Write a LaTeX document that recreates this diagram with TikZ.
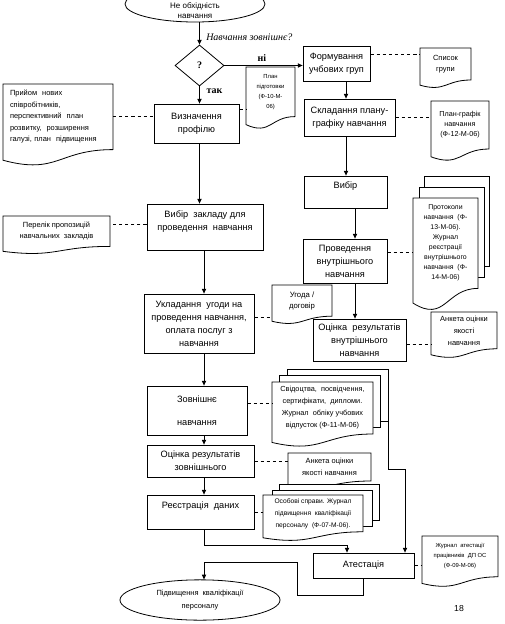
\documentclass[tikz,border=0pt]{standalone}
\usepackage{fontspec}
\setmainfont{Liberation Sans}
\newfontfamily\serifrm{Liberation Serif}
\usetikzlibrary{shapes.geometric,calc,arrows.meta}
\pgfdeclarelayer{bg}
\pgfsetlayers{bg,main}
\newcommand\bxfont{\fontsize{6.9pt}{9.8pt}\selectfont}
\newcommand\dcfont{\fontsize{5.6pt}{8.6pt}\selectfont}
\newcommand\smfont{\fontsize{5.2pt}{7.5pt}\selectfont}
\newcommand\tyfont{\fontsize{4.4pt}{7.5pt}\selectfont}
\tikzset{
  bx/.style={draw, line width=0.6pt, inner sep=1pt, align=center, font=\bxfont},
  sz/.style 2 args={minimum width=#1*0.75pt, minimum height=#2*0.75pt},
  docn/.style={inner sep=0pt, outer sep=0pt, align=center, font=\dcfont},
  arr/.style={line width=0.6pt, -{Triangle[length=3.6pt,width=3.2pt]}},
  dsh/.style={line width=0.6pt, dash pattern=on 2.4pt off 2.2pt},
  pageline/.style={draw, fill=white, line width=0.6pt},
  lbl/.style={inner sep=0pt},
}
\newcommand\docout[1]{%
  \path[pageline] let \p1=(#1.north west), \p2=(#1.south east), \n1={\y1-\y2} in
  (\x1,\y1) -- (\x2,\y1) -- (\x2,\y2) .. controls ({0.5*\x1+0.5*\x2},\y2) and ({0.5*\x1+0.5*\x2},{\y2-0.3875*\n1}) .. (\x1,{\y2-0.1625*\n1}) -- cycle;}
\newcommand\pagebehind[3]{%
  \path[pageline] ($(#1.north west)+(#2,-#3)$) rectangle ($(#1.south east)+(#2,-#3)$);}
\begin{document}
\begin{tikzpicture}[x=0.75pt, y=-0.75pt]
\useasboundingbox (0,0) rectangle (505,624);
\begin{pgfonlayer}{bg}
\fill[white] (0,0) rectangle (505,624);
\end{pgfonlayer}

% guide coordinates
\coordinate (gA) at (346,0);
\coordinate (gB) at (355,0);
\coordinate (gC) at (204,0);
\coordinate (gD) at (405,0);
\coordinate (gE) at (347,0);

% terminal ellipses
\node[draw, ellipse, line width=0.6pt, sz={140}{36}] (start) at (195,4) {};
\node[lbl, align=center, font=\fontsize{6pt}{7.5pt}\selectfont] (starttxt) at (195,11) {Не обхідність\\навчання};
\node[draw, ellipse, line width=0.6pt, sz={160}{40}, align=center, font=\fontsize{5.6pt}{9.5pt}\selectfont] (endel) at (200,600) {Підвищення\ \ кваліфікації\\персоналу};

% decision
\node[draw, diamond, line width=0.6pt, sz={49}{41}, inner sep=0pt, font=\serifrm\bfseries\fontsize{7.5pt}{9pt}\selectfont] (dia) at (199.5,65.5) {?};
\node[lbl, anchor=west, font=\serifrm\itshape\fontsize{7.5pt}{9pt}\selectfont] (qlbl) at (206,37) {Навчання зовнішнє?};
\node[lbl, font=\serifrm\bfseries\fontsize{7.5pt}{9pt}\selectfont] (nilbl) at (262,58) {ні};
\node[lbl, font=\serifrm\bfseries\fontsize{7.5pt}{9pt}\selectfont] (taklbl) at (214.5,91) {так};

% process boxes
\node[bx, sz={85}{39}] (viz) at (196.5,123.5) {Визначення\\профілю};
\node[bx, sz={67}{35}] (form) at (336.5,63.5) {Формування\\учбових груп};
\node[bx, sz={91}{37}] (skl) at (349.5,117.5) {Складання плану-\\графіку навчання};
\node[bx, sz={83}{32}] (vyb) at (345.5,192) {Вибір\\\mbox{}};
\node[bx, sz={84}{44}] (prov) at (345,261) {Проведення\\внутрішнього\\навчання};
\node[bx, sz={116}{46}] (zakl) at (205,227) {Вибір\ \ закладу для\\проведення\ \ навчання\\\mbox{}};
\node[bx, sz={110}{59}] (ukl) at (199,323.5) {Укладання\ \ угоди на\\проведення навчання,\\оплата послуг з\\навчання};
\node[bx, sz={93}{42}] (ocv) at (359.5,340) {Оцінка\ \ результатів\\внутрішнього\\навчання};
\node[bx, sz={100}{49}] (zovn) at (197,410.5) {Зовнішнє\\[7.5pt]навчання};
\node[bx, sz={107}{32}] (ocz) at (200.5,461) {Оцінка результатів\\зовнішнього};
\node[bx, sz={107}{34}] (reg) at (200.5,512) {Реєстрація\ \ даних\\\mbox{}};
\node[bx, sz={101}{25}] (atest) at (363.5,565.5) {Атестація};

% documents (node = upper part of the document sheet)
\node[docn, sz={110}{65.6}, text width=96*0.75pt, align=left] (prij) at (58,116.8) {Прийом\ \ нових\\співробітників,\\перспективний\ \ план\\розвитку,\ \ розширення\\галузі, план\ \ підвищення};
\node[docn, sz={49}{49.6}, font=\tyfont] (plan) at (270.5,91.8) {План\\підготовки\\(Ф-10-М-\\06)};
\node[docn, sz={51}{32}] (spys) at (445.5,64) {Список\\групи};
\node[docn, sz={58}{48}, font=\fontsize{5.4pt}{7.6pt}\selectfont] (pgraf) at (460,125) {План-графік\\навчання\\(Ф-12-М-06)};
\node[docn, sz={107}{30.4}] (perel) at (56.5,231.2) {Перелік пропозицій\\навчальних\ \ закладів};
\node[docn, sz={65}{90.4}, font=\smfont] (prot) at (445.5,243.2) {Протоколи\\навчання\ \ (Ф-\\13-М-06).\\Журнал\\реєстрації\\внутрішнього\\навчання\ \ (Ф-\\14-М-06)};
\node[docn, sz={60}{31.2}, font=\fontsize{5.8pt}{8.3pt}\selectfont] (ugoda) at (302,300.6) {Угода /\\договір};
\node[docn, sz={66}{36.8}, font=\fontsize{5.6pt}{9pt}\selectfont] (ank1) at (464,330.4) {Анкета оцінки\\якості\\навчання};
\node[docn, sz={101}{52}, font=\fontsize{5.5pt}{9pt}\selectfont] (svid) at (322.5,408) {Свідоцтва,\ \ посвідчення,\\сертифікати,\ \ дипломи.\\Журнал\ \ обліку учбових\\відпусток (Ф-11-М-06)};
\node[docn, sz={83}{28}] (ank2) at (329.5,467) {Анкета оцінки\\якості навчання};
\node[docn, sz={100}{36.8}, font=\fontsize{5pt}{9pt}\selectfont] (osob) at (313,513.4) {Особові справи. Журнал\\підвищення\ \ кваліфікації\\персоналу\ \ (Ф-07-М-06).};
\node[docn, sz={76}{40.8}, font=\tyfont] (zhur) at (460,556.4) {Журнал\ \ атестації\\працівників\ \ ДП ОС\\(Ф-09-М-06)};

\node[lbl, font=\fontsize{6.5pt}{8pt}\selectfont] (pagenum) at (459,609) {18};

% document outlines
\begin{pgfonlayer}{bg}
\docout{prij}
\docout{plan}
\docout{spys}
\docout{pgraf}
\docout{perel}
\pagebehind{prot}{11}{22}
\pagebehind{prot}{6}{11}
\docout{prot}
\docout{ugoda}
\docout{ank1}
\pagebehind{svid}{15}{13}
\pagebehind{svid}{7}{7}
\docout{svid}
\docout{ank2}
\pagebehind{osob}{16}{11}
\pagebehind{osob}{9}{5}
\docout{osob}
\docout{zhur}
\end{pgfonlayer}

% flow connectors
\draw[arr] (start.south -| dia.north) -- (dia.north);
\draw[arr] (dia.east) -- (dia.east -| form.west);
\draw[arr] (dia.south) -- (dia.south |- viz.north);
\draw[arr] (dia.south |- viz.south) -- (dia.south |- zakl.north);
\draw[arr] (gC |- zakl.south) -- (gC |- ukl.north);
\draw[arr] (gC |- ukl.south) -- (gC |- zovn.north);
\draw[arr] (gC |- zovn.south) -- (gC |- ocz.north);
\draw[arr] (gC |- ocz.south) -- (gC |- reg.north);
\draw[arr] (gC |- reg.south) -- ++(0,16) -| (gE |- atest.north);
\draw[arr] (gA |- form.south) -- (gA |- skl.north);
\draw[arr] (gA |- skl.south) -- (gA |- vyb.north);
\draw[arr] (gB |- vyb.south) -- (gB |- prov.north);
\draw[arr] (gB |- prov.south) -- (gB |- ocv.north);
\draw[arr] ($(svid.north east)+(15,-13)$) -- ++(0,100) -| (gD |- atest.north);
\draw[arr] (atest.south) -- ++(0,17) -- ++(-66,0) -- ++(0,-33) -| (gC |- endel.north);

% dashed associations
\draw[dsh] (prij.east) -- (prij.east -| viz.west);
\draw[dsh] ($(viz.east)+(0,-14.5)$) coordinate (t1) -- (t1 -| plan.west);
\draw[dsh] ($(form.east)+(0,-9.5)$) coordinate (t2) -- (t2 -| spys.west);
\draw[dsh] (skl.east) -- (skl.east -| pgraf.west);
\draw[dsh] ($(zakl.west)+(0,-3)$) coordinate (t3) -- (t3 -| perel.east);
\draw[dsh] ($(prov.east)+(0,-9)$) coordinate (t4) -- (t4 -| prot.west);
\draw[dsh] ($(ukl.east)+(0,-6.5)$) coordinate (t5) -- (t5 -| ugoda.west);
\draw[dsh] ($(ocv.east)+(0,4)$) coordinate (t6) -- (t6 -| ank1.west);
\draw[dsh] ($(zovn.east)+(0,-7.5)$) coordinate (t7) -- (t7 -| svid.west);
\draw[dsh] (ocz.east) -- (ocz.east -| ank2.west);
\draw[dsh] (reg.east) -- (reg.east -| osob.west);
\draw[dsh] (atest.east) -- (atest.east -| zhur.west);
\end{tikzpicture}
\end{document}
